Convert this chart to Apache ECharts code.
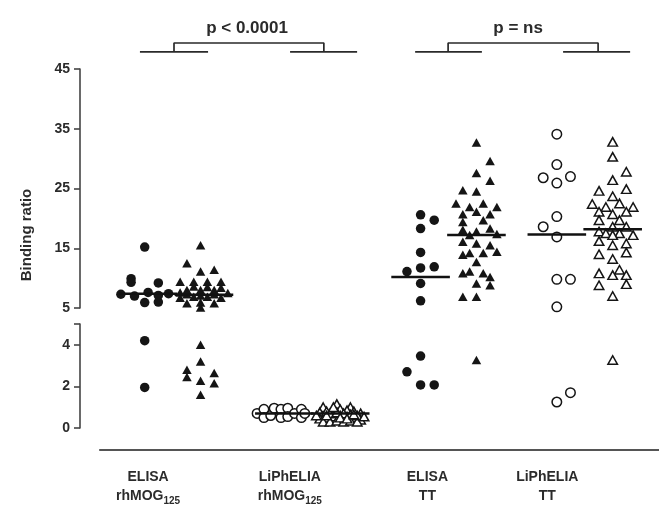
<!DOCTYPE html>
<html><head><meta charset="utf-8">
<script src="https://cdn.jsdelivr.net/npm/echarts@6/dist/echarts.min.js"></script>
<style>html,body{margin:0;padding:0;background:#fff}#c{width:659px;height:506px}</style>
</head><body><div id="c"></div>
<script>
// ---- data: [horizontal slot (jitter), binding ratio] ----
const categories = ['ELISA|rhMOG|125', 'LiPhELIA|rhMOG|125', 'ELISA|TT|', 'LiPhELIA|TT|'];
const categoryPos = [0, 1.04, 2.05, 2.93];
const upperTicks = [5, 15, 25, 35, 45];
const lowerTicks = [0, 2, 4];

const elisaMogCircles = [[-0.5,15.2],[-2.5,9.9],[-2.5,9.3],[1.5,9.2],[-4,7.3],[-2,7.0],[0,7.6],[1.5,7.1],[3,7.4],[-0.5,5.9],[1.5,6.0],[-0.5,4.2],[-0.5,1.95]];
const elisaMogTriangles = [[-0.5,15.5],[-2.5,12.5],[-0.5,11.1],[1.5,11.4],[-3.5,9.4],[-1.5,9.4],[0.5,9.4],[2.5,9.4],[-2.5,8.0],[-0.5,8.0],[1.5,8.0],[-3.5,6.7],[-1.5,6.9],[-0.5,7.1],[0.5,6.9],[2.5,6.7],[-2.5,5.8],[-0.5,5.9],[1.5,5.8],[-0.5,5.1],[-1.5,8.6],[0.5,8.5],[3.5,7.5],[-3.5,7.6],[2.5,8.4],[-2.5,7.3],[1.5,7.3],[-0.5,4.0],[-0.5,3.2],[-2.5,2.8],[-2.5,2.45],[1.5,2.65],[-0.5,2.27],[1.5,2.15],[-0.5,1.6]];
const liphMogCircles = [[-4,0.7],[-3,0.9],[-3,0.5],[-2,0.6],[-1.5,0.95],[-0.5,0.9],[-0.5,0.5],[0.5,0.95],[0.5,0.55],[1.5,0.7],[2.5,0.9],[2.5,0.5],[3,0.7]];
const liphMogTriangles = [[-2.5,1.0],[-0.5,1.15],[1.5,1.0],[-3,0.75],[-2,0.8],[-1,0.85],[0,0.9],[1,0.85],[2,0.8],[3,0.7],[-3,0.45],[-2,0.5],[-1,0.55],[0,0.6],[1,0.55],[2,0.5],[3,0.4],[-2.5,0.3],[-1.5,0.3],[-0.5,0.35],[0.5,0.3],[1.5,0.35],[2.5,0.3],[-1.5,0.7],[0.5,0.7],[2.5,0.6],[-0.5,0.75],[1.5,0.65],[-3.5,0.6],[3.5,0.55],[-1,1.0],[0,0.5],[1,0.45],[-2,0.6],[2,0.65]];
const elisaTTCircles = [[0,20.6],[2,19.7],[0,18.3],[0,14.3],[-2,11.1],[0,11.7],[2,11.9],[0,9.1],[0,6.2],[0,3.46],[-2,2.7],[0,2.07],[2,2.07]];
const elisaTTTriangles = [[0,32.7],[2,29.6],[0,27.6],[2,26.3],[-2,24.7],[0,24.5],[-3,22.5],[-1,21.9],[1,22.5],[3,21.9],[-2,20.7],[0,21.1],[2,20.7],[-2,19.4],[1,19.7],[-2,18.1],[0,17.8],[2,18.3],[3,17.4],[-1,17.2],[-2,16.1],[0,15.8],[2,15.5],[-2,13.9],[-1,14.2],[1,14.2],[3,14.4],[0,12.7],[-2,10.8],[-1,11.1],[1,10.8],[2,10.2],[0,9.1],[2,8.8],[-2,6.9],[0,6.9],[0,3.27]];
const liphTTCircles = [[0,34.1],[0,29.0],[-2,26.8],[0,25.9],[2,27.0],[0,20.3],[-2,18.6],[0,16.9],[0,9.8],[2,9.8],[0,5.2],[2,1.7],[0,1.25]];
const liphTTTriangles = [[0,32.8],[0,30.3],[2,27.8],[0,26.4],[2,24.9],[-2,24.6],[0,23.7],[-3,22.4],[-1,21.9],[1,22.5],[3,21.9],[-2,21.1],[0,20.7],[2,21.1],[-2,19.7],[1,19.7],[0,18.6],[2,18.6],[-2,17.8],[-1,17.5],[1,17.5],[3,17.2],[0,17.2],[-2,16.2],[0,15.5],[2,15.8],[2,14.3],[-2,14.0],[0,13.2],[1,11.4],[-2,10.8],[0,10.5],[2,10.5],[2,9.0],[-2,8.8],[0,7.0],[0,3.27]];
const medians = [7.4, 7.2, 0.7, 0.7, 10.2, 17.2, 17.3, 18.2];

// significance brackets (x in axis units, y in upper-axis units)
const brackets = [
  {text:'p < 0.0001', tx:0.726, left:[-0.06,0.44], right:[1.042,1.534], up:[0.19,1.29]},
  {text:'p = ns', tx:2.716, left:[1.96,2.45], right:[3.046,3.538], up:[2.202,3.303]}
];
const bracketLow = 47.85, bracketHigh = 49.35, bracketText = 51.8;

// ---- build ----
const FONT = '"Liberation Sans", Arial, Helvetica, sans-serif';
const SLOT = 0.05, TRI_OFF = 0.41;
const columns = [
  [elisaMogCircles,0,'circle',false],[elisaMogTriangles,0,'triangle',false],
  [liphMogCircles,1,'circle',true],[liphMogTriangles,1,'triangle',true],
  [elisaTTCircles,2,'circle',false],[elisaTTTriangles,2,'triangle',false],
  [liphTTCircles,3,'circle',true],[liphTTTriangles,3,'triangle',true]
];
const series = [];
columns.forEach(([pts, g, shape, open], ci) => {
  const base = g + (shape === 'triangle' ? TRI_OFF : 0);
  const up = [], lo = [];
  pts.forEach(([s, v]) => (v > 5 ? up : lo).push([base + s * SLOT, v]));
  const style = open ? {color:'#ffffff', borderColor:'#151515', borderWidth:1.5, opacity:1} : {color:'#151515', opacity:1};
  const size = shape === 'circle' ? 9.5 : [9.5, 8.5];
  [[up,0],[lo,1]].forEach(([d,i]) => {
    if (d.length) series.push({type:'scatter', xAxisIndex:i, yAxisIndex:i, data:d, symbol:shape,
      symbolSize:size, itemStyle:style, clip:false, silent:true, z:2});
  });
  const m = medians[ci], mi = m > 5 ? 0 : 1;
  series.push({type:'line', xAxisIndex:mi, yAxisIndex:mi, data:[[base-0.215,m],[base+0.215,m]],
    symbol:'none', lineStyle:{color:'#111',width:2.5}, z:4, clip:false, silent:true});
});
const lineSer = d => ({type:'line', xAxisIndex:0, yAxisIndex:0, data:d, symbol:'none', clip:false, silent:true,
  lineStyle:{color:'#2a2a2a', width:1.7}, z:5});
brackets.forEach(b => {
  series.push(lineSer([[b.left[0],bracketLow],[b.left[1],bracketLow]]));
  series.push(lineSer([[b.right[0],bracketLow],[b.right[1],bracketLow]]));
  series.push(lineSer([[b.up[0],bracketLow],[b.up[0],bracketHigh],[b.up[1],bracketHigh],[b.up[1],bracketLow]]));
});

const axisCol = '#444';
const hiddenX = gi => ({gridIndex:gi, type:'value', min:-0.5, max:3.75, show:false});
const option = {
  animation:false,
  backgroundColor:'#fff',
  grid:[
    {left:80, right:0, top:69, height:239},
    {left:80, right:0, top:324, height:104},
    {left:100, right:0, top:449, height:1}
  ],
  xAxis:[hiddenX(0), hiddenX(1),
    {gridIndex:2, type:'value', min:-0.5 + 20/136.24, max:3.75,
     axisLine:{show:true, onZero:false, lineStyle:{color:'#555', width:2.2}}, axisTick:{show:false}, splitLine:{show:false},
     axisLabel:{customValues:categoryPos, margin:18,
       formatter:(v)=>{ let k=0; categoryPos.forEach((p,i)=>{ if(Math.abs(p-v)<Math.abs(categoryPos[k]-v)) k=i; });
         const [a,b,s] = categories[k].split('|'); return '{b|'+a+'}\n{b|'+b+'}' + (s ? '{s|'+s+'}' : ''); },
       rich:{b:{fontFamily:FONT, fontWeight:'bold', fontSize:14, color:'#2b2b2b', lineHeight:19},
             s:{fontFamily:FONT, fontWeight:'bold', fontSize:10, color:'#2b2b2b', lineHeight:8, verticalAlign:'bottom'}}}}
  ],
  yAxis:[
    {gridIndex:0, type:'value', min:5, max:45,
     axisLine:{show:true, onZero:false, lineStyle:{color:axisCol, width:1.6}},
     axisTick:{show:true, length:6, customValues:upperTicks, lineStyle:{color:axisCol, width:1.6}},
     axisLabel:{customValues:upperTicks, fontFamily:FONT, fontWeight:'bold', fontSize:14, color:'#2b2b2b', margin:10},
     splitLine:{show:false}},
    {gridIndex:1, type:'value', min:0, max:5,
     axisLine:{show:true, onZero:false, lineStyle:{color:axisCol, width:1.6}},
     axisTick:{show:true, length:6, customValues:[0,2,4,5], lineStyle:{color:axisCol, width:1.6}},
     axisLabel:{customValues:lowerTicks, fontFamily:FONT, fontWeight:'bold', fontSize:14, color:'#2b2b2b', margin:10},
     splitLine:{show:false}},
    {gridIndex:2, type:'value', min:0, max:1, show:false}
  ],
  graphic:[{type:'text', x:27, y:235, rotation:Math.PI/2,
    style:{text:'Binding ratio', fontFamily:FONT, fontWeight:'bold', fontSize:15, fill:'#2b2b2b', align:'center', verticalAlign:'middle'}}],
  series
};
const chart = echarts.init(document.getElementById('c'), null, {renderer:'canvas'});
chart.setOption(option);
// p-value texts placed through the upper grid's scales
chart.setOption({graphic: brackets.map((b, i) => {
  const [px, py] = chart.convertToPixel({xAxisIndex:0, yAxisIndex:0}, [b.tx, bracketText]);
  return {id:'p'+i, type:'text', x:px, y:py, z:10,
    style:{text:b.text, fontFamily:FONT, fontWeight:'bold', fontSize:17, fill:'#2b2b2b', align:'center', verticalAlign:'middle'}};
})});
</script></body></html>
